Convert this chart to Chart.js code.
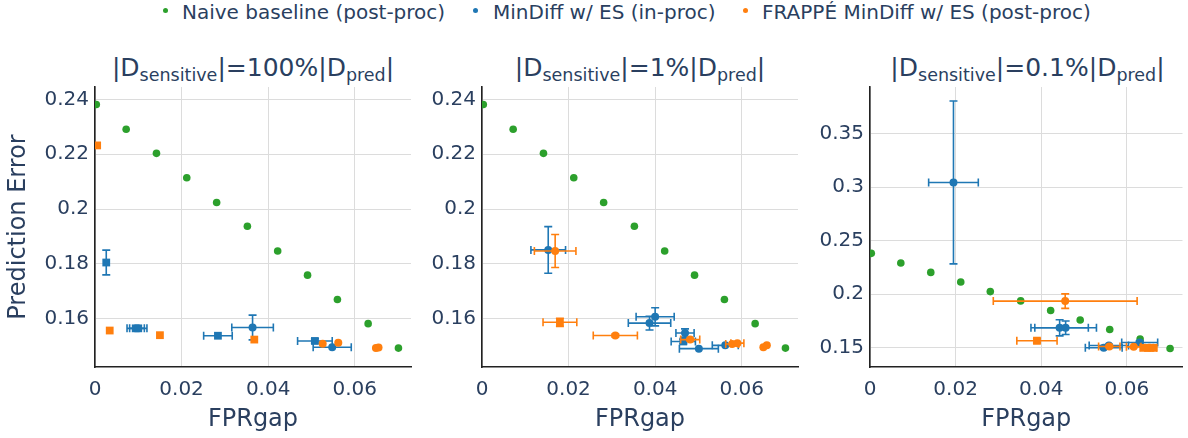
<!DOCTYPE html>
<html>
<head>
<meta charset="utf-8">
<script src="https://cdn.jsdelivr.net/npm/chart.js@4.4.0/dist/chart.umd.min.js"></script>
<style>
  body { margin: 0; background: #fff; width: 1188px; height: 438px; position: relative; overflow: hidden;
         font-family: 'DejaVu Sans', sans-serif; color: #2a3f5f; }
  canvas { position: absolute; top: 0; }
  .leg { position: absolute; top: 0; font-size: 20px; line-height: 24px; white-space: nowrap; }
  .dot { position: absolute; top: 8px; width: 5px; height: 5px; border-radius: 50%; }
  .ttl { position: absolute; top: 53px; font-size: 25px; line-height: 30px; text-align: center; white-space: nowrap; }
  .ttl sub { font-size: 17.5px; vertical-align: -5px; line-height: 0; }
</style>
</head>
<body>
<span class="dot" style="left:163px;background:#2ca02c"></span>
<span class="leg" style="left:182px">Naive baseline (post-proc)</span>
<span class="dot" style="left:473px;background:#1f77b4"></span>
<span class="leg" style="left:493px">MinDiff w/ ES (in-proc)</span>
<span class="dot" style="left:743px;background:#ff7f0e"></span>
<span class="leg" style="left:762px">FRAPPÉ MinDiff w/ ES (post-proc)</span>

<div class="ttl" style="left:95px;width:316px">|D<sub>sensitive</sub>|=100%|D<sub>pred</sub>|</div>
<div class="ttl" style="left:482px;width:316px">|D<sub>sensitive</sub>|=1%|D<sub>pred</sub>|</div>
<div class="ttl" style="left:870px;width:315px">|D<sub>sensitive</sub>|=0.1%|D<sub>pred</sub>|</div>

<canvas id="c1" width="420" height="438" style="left:0px"></canvas>
<canvas id="c2" width="400" height="438" style="left:410px"></canvas>
<canvas id="c3" width="388" height="438" style="left:800px"></canvas>

<script>
// axes
const xTicks = [0, 0.02, 0.04, 0.06];
const xTickLabels = ['0', '0.02', '0.04', '0.06'];
const yTicksA = [0.16, 0.18, 0.2, 0.22, 0.24];
const yTickLabelsA = ['0.16', '0.18', '0.2', '0.22', '0.24'];
const yTicksB = [0.15, 0.2, 0.25, 0.3, 0.35];
const yTickLabelsB = ['0.15', '0.2', '0.25', '0.3', '0.35'];

// Naive baseline (same in every panel)
const naiveX = [0.0003, 0.0072, 0.0142, 0.0212, 0.0281, 0.0352, 0.0422, 0.0491, 0.0560, 0.0631, 0.0701];
const naiveY = [0.2381, 0.2291, 0.2203, 0.2114, 0.2024, 0.1937, 0.1847, 0.1759, 0.1670, 0.1582, 0.1493];

// |D_sensitive| = 100%
const md100X = [0.0026, 0.0094, 0.0100, 0.0284, 0.0364, 0.0508, 0.0548];
const md100Y = [0.1805, 0.1565, 0.1565, 0.1538, 0.1568, 0.1519, 0.1496];
const md100XErr = [0, 0.002, 0.002, 0.0033, 0.0048, 0.0040, 0.0044];
const md100YErr = [0.0045, 0, 0, 0, 0.0045, 0.0008, 0];
const md100Shape = ['rect', 'rect', 'rect', 'rect', 'circle', 'rect', 'circle'];
const fr100X = [0.0005, 0.0034, 0.0150, 0.0368, 0.0526, 0.0562, 0.0649, 0.0655];
const fr100Y = [0.2232, 0.1557, 0.1540, 0.1524, 0.1509, 0.1512, 0.1493, 0.1495];
const fr100XErr = [0, 0, 0, 0, 0, 0, 0, 0];
const fr100YErr = [0, 0, 0, 0, 0, 0, 0, 0];
const fr100Shape = ['rect', 'rect', 'rect', 'rect', 'circle', 'circle', 'circle', 'circle'];

// |D_sensitive| = 1%
const md1X = [0.0153, 0.0400, 0.0387, 0.0469, 0.0465, 0.0501, 0.0562];
const md1Y = [0.1851, 0.1607, 0.1584, 0.1548, 0.1517, 0.1491, 0.1503];
const md1XErr = [0.0040, 0.0044, 0.0049, 0.0021, 0.0028, 0.0045, 0.0030];
const md1YErr = [0.0085, 0.0033, 0.0025, 0.0015, 0.0008, 0, 0];
const md1Shape = ['circle', 'circle', 'circle', 'circle', 'rect', 'circle', 'circle'];
const fr1X = [0.0169, 0.0180, 0.0308, 0.0481, 0.0578, 0.0590, 0.0650, 0.0658];
const fr1Y = [0.1847, 0.1587, 0.1539, 0.1524, 0.1508, 0.1511, 0.1496, 0.1503];
const fr1XErr = [0.0048, 0.0039, 0.0051, 0.0022, 0.0015, 0.0015, 0, 0];
const fr1YErr = [0.0060, 0.0015, 0.0005, 0.0005, 0, 0, 0, 0];
const fr1Shape = ['circle', 'rect', 'circle', 'circle', 'circle', 'circle', 'circle', 'circle'];

// |D_sensitive| = 0.1%
const md01X = [0.0195, 0.0443, 0.0457, 0.0546, 0.0558, 0.0630];
const md01Y = [0.3043, 0.1686, 0.1686, 0.1500, 0.1521, 0.1549];
const md01XErr = [0.0058, 0.0067, 0.0072, 0.0043, 0.0046, 0.0042];
const md01YErr = [0.0760, 0.0075, 0.0063, 0.0010, 0.0010, 0.0015];
const md01Shape = ['circle', 'circle', 'circle', 'circle', 'circle', 'circle'];
const fr01X = [0.0456, 0.0390, 0.0559, 0.0616, 0.0641, 0.0652, 0.0662];
const fr01Y = [0.1935, 0.1565, 0.1512, 0.1508, 0.1499, 0.1499, 0.1499];
const fr01XErr = [0.0168, 0.0047, 0.0025, 0.0017, 0.0010, 0.0010, 0.0008];
const fr01YErr = [0.0068, 0.0020, 0.0010, 0.0005, 0, 0, 0];
const fr01Shape = ['circle', 'rect', 'circle', 'circle', 'rect', 'rect', 'rect'];

const GREEN = '#2ca02c', BLUE = '#1f77b4', ORANGE = '#ff7f0e';
const TXT = '#2a3f5f';
Chart.defaults.font.family = "'DejaVu Sans', sans-serif";
Chart.defaults.color = TXT;

function pts(xs, ys) {
    return xs.map((x, i) => ({ x: x, y: ys[i] }));
}

// draws the error bars of a dataset just under its markers
const errorBars = {
    id: 'errorBars',
    beforeDatasetDraw(chart, args) {
        const ds = chart.data.datasets[args.index];
        if (!ds.xErr) return;
        const xs = chart.scales.x, ys = chart.scales.y;
        const ctx = chart.ctx;
        const cap = 4;
        ctx.save();
        ctx.strokeStyle = ds.backgroundColor;
        ctx.lineWidth = 1.6;
        ds.data.forEach((p, i) => {
            const px = xs.getPixelForValue(p.x), py = ys.getPixelForValue(p.y);
            const ex = ds.xErr[i], ey = ds.yErr[i];
            ctx.beginPath();
            if (ex) {
                const l = xs.getPixelForValue(p.x - ex), r = xs.getPixelForValue(p.x + ex);
                ctx.moveTo(l, py); ctx.lineTo(r, py);
                ctx.moveTo(l, py - cap); ctx.lineTo(l, py + cap);
                ctx.moveTo(r, py - cap); ctx.lineTo(r, py + cap);
            }
            if (ey) {
                const t = ys.getPixelForValue(p.y + ey), b = ys.getPixelForValue(p.y - ey);
                ctx.moveTo(px, t); ctx.lineTo(px, b);
                ctx.moveTo(px - cap, t); ctx.lineTo(px + cap, t);
                ctx.moveTo(px - cap, b); ctx.lineTo(px + cap, b);
            }
            ctx.stroke();
        });
        ctx.restore();
    }
};

function series(label, color, xs, ys, xe, ye, shapes, order) {
    return {
        label: label,
        data: pts(xs, ys),
        backgroundColor: color,
        borderColor: color,
        borderWidth: 0,
        pointStyle: shapes || 'circle',
        pointRadius: shapes ? shapes.map(s => s === 'rect' ? 5.5 : 4) : 3.8,
        xErr: xe,
        yErr: ye,
        order: order
    };
}

function makePanel(id, opt) {
    new Chart(document.getElementById(id), {
        type: 'scatter',
        data: {
            datasets: [
                series('Naive baseline (post-proc)', GREEN, naiveX, naiveY, null, null, null, 3),
                series('MinDiff w/ ES (in-proc)', BLUE, opt.mdX, opt.mdY, opt.mdXErr, opt.mdYErr, opt.mdShape, 2),
                series('FRAPPÉ MinDiff w/ ES (post-proc)', ORANGE, opt.frX, opt.frY, opt.frXErr, opt.frYErr, opt.frShape, 1)
            ]
        },
        options: {
            responsive: false,
            animation: false,
            layout: { padding: { top: 87, right: opt.padRight, bottom: 0, left: 0 } },
            plugins: { legend: { display: false }, tooltip: { enabled: false } },
            scales: {
                x: {
                    type: 'linear',
                    min: 0, max: 0.073,
                    afterFit: s => { s.height = 71; },
                    afterBuildTicks: s => { s.ticks = xTicks.map(v => ({ value: v })); },
                    grid: { color: '#dcdcdc', drawTicks: false },
                    border: { color: '#222', width: 1.6 },
                    ticks: { padding: 11, font: { size: 20 }, callback: (v, i) => xTickLabels[i] },
                    title: { display: true, text: 'FPRgap', font: { size: 24 }, padding: { top: 0, bottom: 4 } }
                },
                y: {
                    type: 'linear',
                    min: opt.yMin, max: opt.yMax,
                    afterFit: s => { s.width = opt.yWidth; },
                    afterBuildTicks: s => { s.ticks = opt.yTicks.map(v => ({ value: v })); },
                    grid: { color: '#dcdcdc', drawTicks: false },
                    border: { color: '#222', width: 1.6 },
                    ticks: { padding: 6, font: { size: 20 }, callback: (v, i) => opt.yLabels[i] },
                    title: { display: opt.yTitle, text: 'Prediction Error', font: { size: 24 }, padding: { top: 4, bottom: 0 } }
                }
            }
        },
        plugins: [errorBars]
    });
}

makePanel('c1', {
    mdX: md100X, mdY: md100Y, mdXErr: md100XErr, mdYErr: md100YErr, mdShape: md100Shape,
    frX: fr100X, frY: fr100Y, frXErr: fr100XErr, frYErr: fr100YErr, frShape: fr100Shape,
    yMin: 0.1424, yMax: 0.2445, yTicks: yTicksA, yLabels: yTickLabelsA,
    yWidth: 95, padRight: 9, yTitle: true
});
makePanel('c2', {
    mdX: md1X, mdY: md1Y, mdXErr: md1XErr, mdYErr: md1YErr, mdShape: md1Shape,
    frX: fr1X, frY: fr1Y, frXErr: fr1XErr, frYErr: fr1YErr, frShape: fr1Shape,
    yMin: 0.1424, yMax: 0.2445, yTicks: yTicksA, yLabels: yTickLabelsA,
    yWidth: 72, padRight: 12, yTitle: false
});
makePanel('c3', {
    mdX: md01X, mdY: md01Y, mdXErr: md01XErr, mdYErr: md01YErr, mdShape: md01Shape,
    frX: fr01X, frY: fr01Y, frXErr: fr01XErr, frYErr: fr01YErr, frShape: fr01Shape,
    yMin: 0.132, yMax: 0.3934, yTicks: yTicksB, yLabels: yTickLabelsB,
    yWidth: 70, padRight: 3, yTitle: false
});
</script>
</body>
</html>
